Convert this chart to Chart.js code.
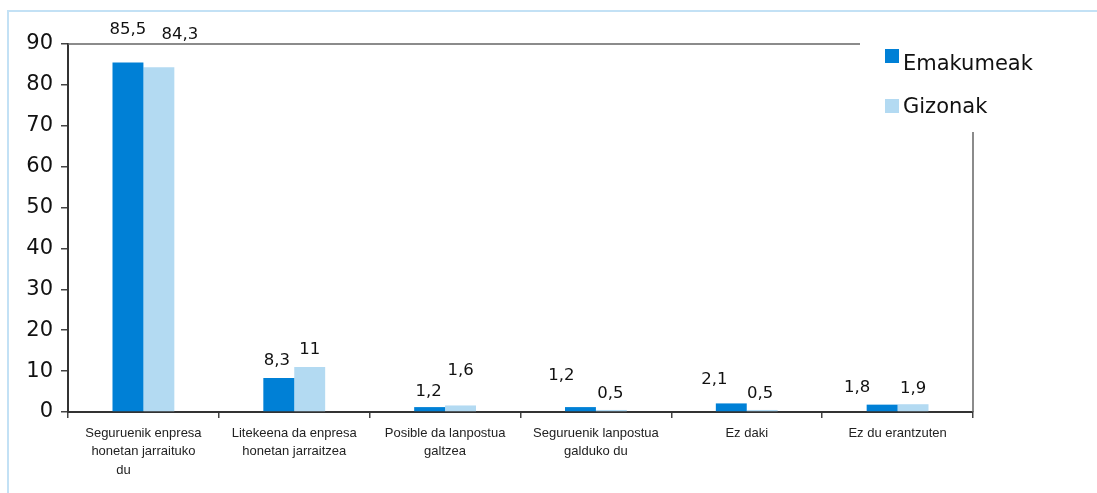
<!DOCTYPE html>
<html>
<head>
<title></title>
<script src="https://cdn.jsdelivr.net/npm/chart.js"></script>
<style>
  body { margin: 0; background: #fff; overflow: hidden; }
</style>
</head>
<body>
<canvas id="myChart" width="1097" height="493"></canvas>

<script>
const categories = [
  ['Seguruenik enpresa', 'honetan jarraituko', 'du           '],
  ['Litekeena da enpresa', 'honetan jarraitzea'],
  ['Posible da lanpostua', 'galtzea'],
  ['Seguruenik lanpostua', 'galduko du'],
  ['Ez daki'],
  ['Ez du erantzuten']
];
const emakumeak = [85.5, 8.3, 1.2, 1.2, 2.1, 1.8];
const gizonak = [84.3, 11, 1.6, 0.5, 0.5, 1.9];
const yMin = 0;
const yMax = 90;
const yStep = 10;

// where each value label sits relative to the top of its bar (dx, dy)
const labelShift = [
  [[0, -33], [-2, -17], [-1, -15], [-19, -31], [-17, -24], [-25, -17]],
  [[21, -33], [0, -17], [0, -35], [-1, -16], [-2, -16], [0, -16]]
];

const valueLabels = {
  id: 'valueLabels',
  afterDatasetsDraw(chart) {
    const ctx = chart.ctx;
    ctx.save();
    ctx.font = '16.5px "DejaVu Sans"';
    ctx.fillStyle = '#111';
    ctx.textAlign = 'center';
    ctx.textBaseline = 'middle';
    chart.data.datasets.forEach((ds, i) => {
      chart.getDatasetMeta(i).data.forEach((bar, j) => {
        const s = labelShift[i][j];
        ctx.fillText(String(ds.data[j]).replace('.', ','), bar.x + s[0], bar.y + s[1]);
      });
    });
    ctx.restore();
  }
};

const frame = {
  id: 'frame',
  beforeDraw(chart) {
    const ctx = chart.ctx;
    ctx.save();
    ctx.strokeStyle = '#c3e1f5';
    ctx.lineWidth = 2;
    ctx.beginPath();
    ctx.moveTo(8, 493);
    ctx.lineTo(8, 11);
    ctx.lineTo(1097, 11);
    ctx.stroke();
    ctx.restore();
  },
  afterDraw(chart) {
    const ctx = chart.ctx;
    const a = chart.chartArea;
    ctx.save();
    ctx.strokeStyle = '#666';
    ctx.lineWidth = 1.5;
    ctx.beginPath();
    ctx.moveTo(a.left, a.top);
    ctx.lineTo(860, a.top);
    ctx.moveTo(a.right, 132);
    ctx.lineTo(a.right, a.bottom);
    ctx.stroke();

    // legend
    ctx.font = '21px "DejaVu Sans"';
    ctx.textAlign = 'left';
    ctx.textBaseline = 'alphabetic';
    const items = [[49, 70], [99, 113]];
    chart.data.datasets.forEach((ds, i) => {
      ctx.fillStyle = ds.backgroundColor;
      ctx.fillRect(885, items[i][0], 14, 14);
      ctx.fillStyle = '#111';
      ctx.fillText(ds.label, 903, items[i][1]);
    });
    ctx.restore();
  }
};

const ctx = document.getElementById('myChart');
new Chart(ctx, {
  type: 'bar',
  data: {
    labels: categories,
    datasets: [
      { label: 'Emakumeak', data: emakumeak, backgroundColor: '#0080d6' },
      { label: 'Gizonak', data: gizonak, backgroundColor: '#b3daf2' }
    ]
  },
  options: {
    responsive: false,
    animation: false,
    layout: { padding: { left: 0, top: 44, right: 124, bottom: 0 } },
    datasets: {
      bar: { categoryPercentage: 0.41, barPercentage: 1 }
    },
    plugins: {
      legend: { display: false },
      tooltip: { enabled: false }
    },
    scales: {
      x: {
        border: { color: '#333', width: 2 },
        grid: { drawOnChartArea: false, color: '#444', lineWidth: 1.5, tickLength: 6 },
        ticks: {
          color: '#222',
          font: { family: '"Liberation Sans", Arial', size: 13, lineHeight: 1.42 },
          padding: 6,
          maxRotation: 0,
          autoSkip: false
        },
        afterFit(scale) { scale.height = 81; }
      },
      y: {
        min: yMin,
        max: yMax,
        border: { color: '#333', width: 2 },
        grid: { drawOnChartArea: false, color: '#444', lineWidth: 1.5, tickLength: 7 },
        ticks: {
          stepSize: yStep,
          color: '#111',
          font: { family: '"DejaVu Sans"', size: 21 },
          padding: 8
        },
        afterFit(scale) { scale.width = 68; }
      }
    }
  },
  plugins: [valueLabels, frame]
});
</script>
</body>
</html>
